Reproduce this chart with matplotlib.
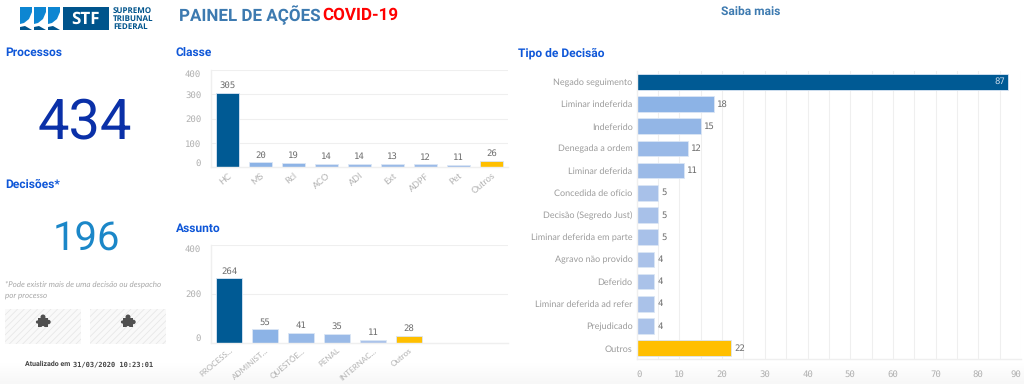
## Painel de Acoes COVID-19 - recreated dashboard
## plot.py

import numpy as np
from matplotlib import pyplot as plt
from matplotlib.patches import Circle, Polygon, Rectangle

# Data
classe_labels = ["HC", "MS", "Rcl", "ACO", "ADI", "Ext", "ADPF", "Pet", "Outros"]
classe_values = [305, 20, 19, 14, 14, 13, 12, 11, 26]
classe_ticks = [0, 100, 200, 300, 400]

assunto_labels = ["PROCESS...", "ADMINIST...", "QUESTÕE...", "PENAL", "INTERNAC...", "Outros"]
assunto_values = [264, 55, 41, 35, 11, 28]
assunto_ticks = [0, 200, 400]

tipo_labels = ["Negado seguimento", "Liminar indeferida", "Indeferido", "Denegada a ordem",
               "Liminar deferida", "Concedida de ofício", "Decisão (Segredo Just)",
               "Liminar deferida em parte", "Agravo não provido", "Deferido",
               "Liminar deferida ad refer", "Prejudicado", "Outros"]
tipo_values = [87, 18, 15, 12, 11, 5, 5, 5, 4, 4, 4, 4, 22]
tipo_ticks = [0, 10, 20, 30, 40, 50, 60, 70, 80, 90]
tipo_grid = [5, 10, 15, 20, 25, 30, 35, 40, 45, 50, 55, 60, 65, 70, 75, 80, 85, 90]

processos = "434"
decisoes = "196"

W, H = 1024, 384
DARK = "#005a94"
YELLOW = "#ffbf00"
TITLE = "#0f57d8"
GRID = "#efefef"
TICK = "#b0b0b0"
VALUE = "#6e6e6e"
MONO = "DejaVu Sans Mono"
SANS = "Lato"

# Keeps the slash in the small mono zeros
plt.rcParams["text.hinting"] = "no_hinting"
plt.rcParams["text.hinting_factor"] = 1
plt.rcParams["hatch.linewidth"] = 0.6

fig = plt.figure(figsize=(W / 100, H / 100), dpi=100)

# Axes placed using pixel box from the reference
def make_axes(left, top, right, bottom):
	ax = fig.add_axes([left / W, 1 - bottom / H, (right - left) / W, (bottom - top) / H])
	ax.patch.set_alpha(0)
	for side in ["top", "right"]:
		ax.spines[side].set_visible(False)
	for side in ["left", "bottom"]:
		ax.spines[side].set_color(GRID)
		ax.spines[side].set_linewidth(1)
	ax.set_axisbelow(True)
	return ax

def fade_color(t):
	light = np.array([0.70, 0.78, 0.92])
	strong = np.array([0.55, 0.70, 0.90])
	return tuple(light + (strong - light) * t)

# Blue fades with the value, largest is dark, others is yellow
def bar_colors(values):
	colors = []
	top = max(values[:-1])
	for i, v in enumerate(values):
		if i == len(values) - 1:
			colors.append(YELLOW)
		elif v == top:
			colors.append(DARK)
		else:
			colors.append(fade_color(v / sorted(values[:-1])[-2]))
	return colors

# Column chart used by Classe and Assunto
def column_chart(ax, labels, values, ticks, ymax, xmax, label_size):
	x = np.arange(len(values))
	ax.bar(x, values, width=0.7, color=bar_colors(values), edgecolor="#dbe6f5", linewidth=0.6)
	for xi, v in zip(x, values):
		ax.text(xi, v + ymax * 0.03, str(v), ha="center", va="bottom", fontsize=6.2,
			family=MONO, color=VALUE)
	ax.set_xlim(-0.5, xmax)
	ax.set_ylim(0, ymax)
	ax.set_yticks(ticks)
	ylabels = ax.set_yticklabels([str(t) for t in ticks], fontsize=6.2, family=MONO, color=TICK)
	# First and last labels stay inside the axis height
	ylabels[0].set_verticalalignment("bottom")
	ylabels[-1].set_verticalalignment("top")
	ax.set_xticks(x)
	ax.set_xticklabels(labels, fontsize=label_size, family=SANS, color=TICK, rotation=40,
		ha="right", rotation_mode="anchor")
	ax.tick_params(axis="x", length=0, pad=3)
	ax.tick_params(axis="y", length=0, pad=7)
	ax.yaxis.grid(True, color=GRID, linewidth=0.8)

# Background
bg = fig.add_axes([0, 0, 1, 1])
fade = np.linspace(1, 0.965, 24).reshape(-1, 1)
bg.imshow(fade, cmap="gray", vmin=0, vmax=1, extent=[0, W, H, H - 24], aspect="auto", zorder=0)
bg.set_xlim(0, W)
bg.set_ylim(H, 0)
bg.axis("off")

# Logo
for x0 in [20, 34, 48]:
	bg.add_patch(Polygon([[x0, 7], [x0 + 12, 7], [x0 + 12, 12], [x0 + 9, 19], [x0 + 4, 23], [x0, 24]],
		color="#0d86d2", lw=0))
	bg.add_patch(Polygon([[x0, 27], [x0 + 5, 26], [x0 + 12, 30], [x0, 30]], color="#00548c", lw=0))
bg.add_patch(Rectangle((62.5, 7), 46, 23, color="#00548c", lw=0))
bg.text(85, 19, "STF", color="white", fontsize=12, fontweight="bold", family="Open Sans",
	ha="center", va="center")
for y, word in zip([11, 19, 27], ["SUPREMO", "TRIBUNAL", "FEDERAL"]):
	bg.text(113, y, word, color="#00548c", fontsize=5.8, family="Open Sans", fontweight="bold",
		ha="left", va="center")

# Header
bg.text(179, 15, "PAINEL DE AÇÕES", color="#3d7ab0", fontsize=11.9, fontweight="bold",
	family="Roboto", ha="left", va="center")
bg.text(322, 15, "COVID-19", color="#ff0000", fontsize=12.5, fontweight="bold",
	family="Roboto", ha="left", va="center")
bg.text(751, 12, "Saiba mais", color="#3d7ab0", fontsize=8.6, fontweight="bold", family="Roboto",
	ha="center", va="center")

# Section titles
for x, y, title in [(5, 53, "Processos"), (176, 53, "Classe"), (5, 185, "Decisões*"),
		(176, 229, "Assunto"), (518, 53, "Tipo de Decisão")]:
	bg.text(x, y, title, color=TITLE, fontsize=8.6, fontweight="bold", family="Roboto",
		ha="left", va="center")

# KPI numbers
bg.text(85, 117, processos, color="#0a30a8", fontsize=40, family="Roboto",
	ha="center", va="center_baseline")
bg.text(86, 236, decisoes, color="#1b87c8", fontsize=29, family="Roboto",
	ha="center", va="center_baseline")

# Footnote
bg.text(5, 284, "*Pode existir mais de uma decisão ou despacho", color="#a8a8a8", fontsize=5.8,
	style="italic", family=SANS, ha="left", va="center")
bg.text(5, 295, "por processo", color="#a8a8a8", fontsize=5.8, style="italic", family=SANS,
	ha="left", va="center")

# Two empty puzzle boxes
for x0 in [5, 90]:
	bg.add_patch(Rectangle((x0, 309), 76, 35, facecolor="#f9f9f9", edgecolor="#e8e8e8",
		hatch="/////", lw=0))
	cx = x0 + 38
	bg.add_patch(Rectangle((cx - 5, 318), 10, 9, color="#505050", lw=0))
	bg.add_patch(Circle((cx, 317), 2.5, color="#505050", lw=0))
	bg.add_patch(Circle((cx + 5.5, 322), 2.2, color="#505050", lw=0))
	bg.add_patch(Circle((cx - 5.5, 322), 1.6, color="#505050", lw=0))
	bg.add_patch(Circle((cx, 327.5), 1.5, color="#f9f9f9", lw=0))

# Update stamp
bg.text(70, 364, "Atualizado em", color="#444444", fontsize=5.4, fontweight="bold",
	family="Roboto", ha="right", va="center")
bg.text(73, 364, "31/03/2020 10:23:01", color="#444444", fontsize=4.8, fontweight="bold",
	family=MONO, ha="left", va="center")

# Charts
ax1 = make_axes(211, 70, 508, 167.3)
column_chart(ax1, classe_labels, classe_values, classe_ticks, 400, 8.5, 6.8)

ax2 = make_axes(211, 245, 508, 342.7)
column_chart(ax2, assunto_labels, assunto_values, assunto_ticks, 400, 7.75, 5.6)

ax3 = make_axes(636.7, 70.7, 1021, 359.3)
y = np.arange(len(tipo_values))
ax3.barh(y, tipo_values, height=0.7, color=bar_colors(tipo_values), edgecolor="#dbe6f5", linewidth=0.6)
for yi, v in zip(y, tipo_values):
	if v == max(tipo_values):
		ax3.text(v - 0.8, yi, str(v), ha="right", va="center", fontsize=6.2, family=MONO, color="#c8d8e8")
	else:
		ax3.text(v + 0.8, yi, str(v), ha="left", va="center", fontsize=6.2, family=MONO, color=VALUE)
ax3.set_xlim(0, 90)
ax3.set_ylim(len(tipo_values) - 0.5, -0.5)
ax3.set_yticks(y)
ax3.set_yticklabels(tipo_labels, fontsize=6.6, family=SANS, color="#9c9c9c")
ax3.set_xticks(tipo_ticks)
xlabels = ax3.set_xticklabels([str(t) for t in tipo_ticks], fontsize=6.2, family=MONO, color=TICK)
# End labels stay inside the axis width
xlabels[0].set_horizontalalignment("left")
xlabels[-1].set_horizontalalignment("right")
ax3.set_xticks(tipo_grid, minor=True)
ax3.tick_params(axis="both", which="both", length=0)
ax3.tick_params(axis="y", pad=3)
ax3.tick_params(axis="x", pad=8)
ax3.xaxis.grid(True, which="both", color=GRID, linewidth=0.8)

fig.savefig("out.png", dpi=100)
